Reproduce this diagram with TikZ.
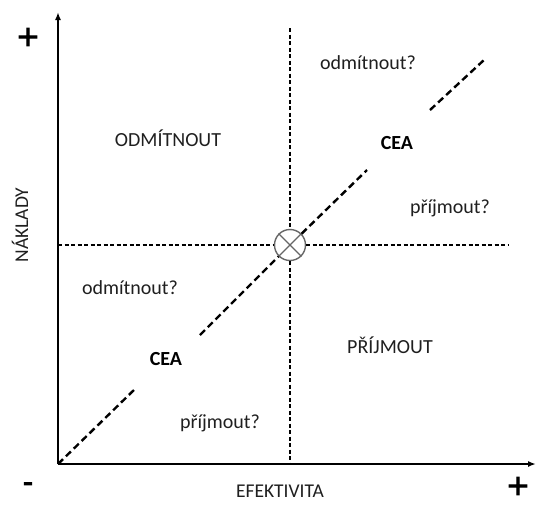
\documentclass[tikz,border=0pt]{standalone}
\usepackage{fontspec}
\setmainfont{Carlito}
\newfontfamily\heavyfont[FakeBold=4]{DejaVu Sans}
\usetikzlibrary{arrows.meta}
\tikzset{
  axis/.style={line width=2pt,-{Latex[length=8pt,width=6pt]}},
  dotline/.style={line width=2.4pt,dash pattern=on 4pt off 2.5pt},
  cealine/.style={line width=2.4pt,dash pattern=on 7pt off 4pt},
  lbl/.style={font=\fontsize{20}{22}\selectfont,text=black!88,inner sep=0pt},
  ceal/.style={font=\fontsize{20}{22}\selectfont\bfseries,inner sep=0pt},
  sign/.style={font=\fontsize{28}{28}\selectfont\heavyfont,inner sep=0pt},
}
\begin{document}
\begin{tikzpicture}[x=1pt,y=-1pt]
\useasboundingbox (0,0) rectangle (536,504);
% axes
\coordinate (O) at (58,464);
\coordinate (ytop) at (58,12);
\coordinate (xend) at (536,464);
\draw[axis] (O) -- (ytop);
\draw[axis] (O) -- (xend);
% center circle
\node[circle,draw=black!60,line width=1.4pt,minimum size=31pt,inner sep=0pt] (c) at (290,245) {};
\draw[black!60,line width=1.4pt] (c.north west) -- (c.south east) (c.north east) -- (c.south west);
% dotted cross
\coordinate (vtop) at (290,28);
\coordinate (vbot) at (290,464);
\coordinate (hl) at (58,245);
\coordinate (hr) at (508,245);
\draw[dotline] (vtop) -- (c);
\draw[dotline] (c) -- (vbot);
\draw[dotline] (hl) -- (c);
\draw[dotline] (c) -- (hr);
% diagonal CEA
\coordinate (d1) at (135,389);
\coordinate (d2) at (200,335);
\coordinate (d3) at (367,170);
\coordinate (d4) at (430,110);
\coordinate (d5) at (484,60);
\draw[cealine] (O) -- (d1);
\draw[cealine] (d2) -- (c);
\draw[cealine] (c) -- (d3);
\draw[cealine] (d4) -- (d5);
% labels
\node[ceal] (cea1) at (166,359) {CEA};
\node[ceal] (cea2) at (397,143) {CEA};
\node[lbl] (odm) at (168,138) {ODMÍTNOUT};
\node[lbl] (pri) at (390,345) {PŘÍJMOUT};
\node[lbl] (odmq1) at (368,63) {odmítnout?};
\node[lbl] (priq1) at (450,208) {příjmout?};
\node[lbl] (odmq2) at (130,288) {odmítnout?};
\node[lbl] (priq2) at (220,423) {příjmout?};
\node[lbl,font=\fontsize{19.5}{21}\selectfont,rotate=90] (ylab) at (20,225) {NÁKLADY};
\node[lbl,font=\fontsize{19.5}{21}\selectfont] (xlab) at (280,491) {EFEKTIVITA};
\node[sign] (p1) at (28,37) {+};
\node[sign] (p2) at (518,486) {+};
\node[sign] (m1) at (28,487) {-};
\end{tikzpicture}
\end{document}
